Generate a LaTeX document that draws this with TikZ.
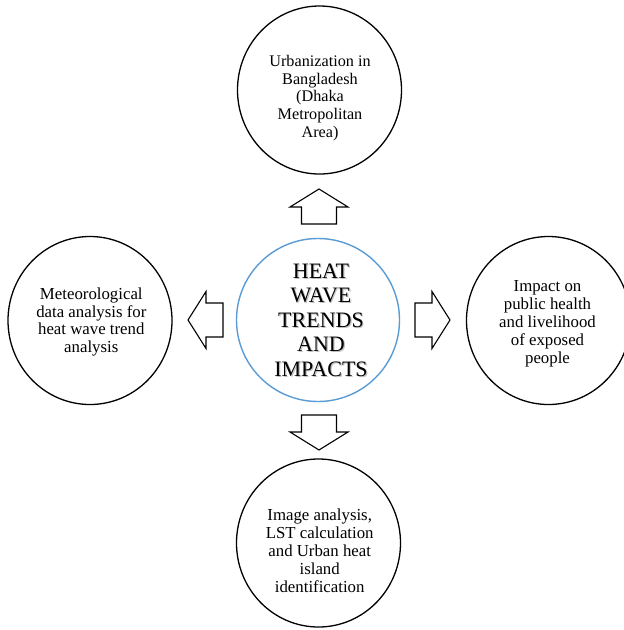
\documentclass[tikz,border=0pt]{standalone}
\usepackage{fontspec}
\setmainfont{Liberation Serif}
\usetikzlibrary{shapes.geometric}
\definecolor{hubblue}{HTML}{5B9BD5}
\begin{document}
\begin{tikzpicture}[x=1pt,y=-1pt,
  topic/.style={ellipse, draw=black, line width=1.3pt, minimum width=164pt,
    minimum height=168pt, inner sep=0pt},
  topictext/.style={align=center, inner sep=0pt,
    font=\fontsize{16.8}{17.9}\selectfont},
  hub/.style={circle, draw=hubblue, line width=1.4pt, minimum size=163pt, inner sep=0pt},
  hubtext/.style={align=center, inner sep=0pt,
    font=\fontsize{22}{24.5}\selectfont},
  blockarrow/.style={draw=black, fill=white, line width=1.1pt, line join=miter},
]
\useasboundingbox (0,0) rectangle (624,630);
\clip (0,0) rectangle (624,630);

% central theme
\node[hub] (hub) at (318,320) {};
\node[hubtext, text=black!50, opacity=0.5] (hubshadow) at (322.2,321.2)
  {HEAT\\WAVE\\TRENDS\\AND\\IMPACTS};
\node[hubtext] (hubtitle) at (321,320) {HEAT\\WAVE\\TRENDS\\AND\\IMPACTS};

% surrounding topics
\node[topic] (urban) at (319.5,90) {};
\node[topictext, font=\fontsize{16.2}{17.8}\selectfont] (urbantext) at (320,98)
  {Urbanization in\\Bangladesh\\(Dhaka\\Metropolitan\\Area)};

\node[topic] (meteo) at (90,320.5) {};
\node[topictext] (meteotext) at (91.3,322)
  {Meteorological\\data analysis for\\heat wave trend\\analysis};

\node[topic] (health) at (548.5,320.5) {};
\node[topictext] (healthtext) at (547.5,323.5)
  {Impact on\\public health\\and livelihood\\of exposed\\people};

\node[topic] (image) at (318.5,543) {};
\node[topictext] (imagetext) at (319.7,551)
  {Image analysis,\\LST calculation\\and Urban heat\\island\\identification};

% block arrows pointing outward from the hub
\coordinate (upbase) at (319,224);
\draw[blockarrow] (upbase) ++(-17.5,0) -- ++(0,-17) -- ++(-11.5,0) -- ++(29,-18)
  -- ++(29,18) -- ++(-11.5,0) -- ++(0,17) -- cycle;

\coordinate (downbase) at (319,415);
\draw[blockarrow] (downbase) ++(-17.5,0) -- ++(0,17) -- ++(-11.5,0) -- ++(29,18)
  -- ++(29,-18) -- ++(-11.5,0) -- ++(0,-17) -- cycle;

\coordinate (leftbase) at (223,320);
\draw[blockarrow] (leftbase) ++(0,-17) -- ++(-17,0) -- ++(0,-11.5) -- ++(-18,28.5)
  -- ++(18,28.5) -- ++(0,-11.5) -- ++(17,0) -- cycle;

\coordinate (rightbase) at (415,320);
\draw[blockarrow] (rightbase) ++(0,-17) -- ++(17,0) -- ++(0,-11.5) -- ++(18,28.5)
  -- ++(-18,28.5) -- ++(0,-11.5) -- ++(-17,0) -- cycle;
\end{tikzpicture}
\end{document}
